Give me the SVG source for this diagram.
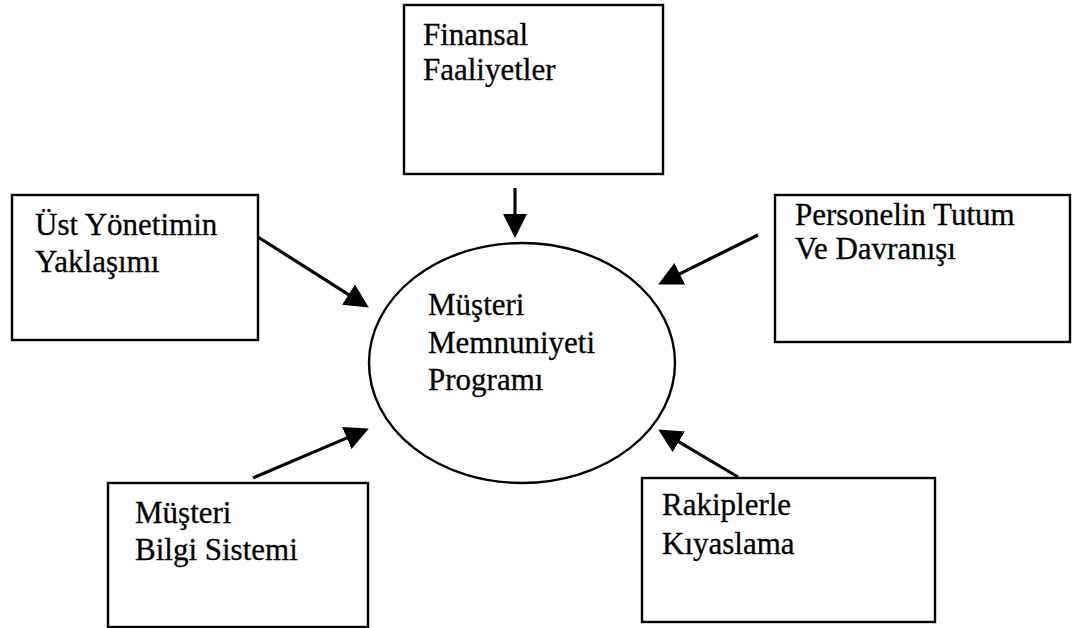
<svg xmlns="http://www.w3.org/2000/svg" width="1078" height="628" viewBox="0 0 1078 628">
  <style>
    .box { fill: #fff; stroke: #000; stroke-width: 2.4; }
    .hub { fill: #fff; stroke: #000; stroke-width: 2.4; }
    .label { font-family: "Liberation Serif", "Times New Roman", "DejaVu Serif", serif; font-size: 31px; fill: #000; stroke: #000; stroke-width: 0.3; }
    .link { stroke: #000; stroke-width: 3.2; fill: none; marker-end: url(#head); }
  </style>
  <defs>
    <marker id="head" markerUnits="userSpaceOnUse" markerWidth="24" markerHeight="24" viewBox="0 0 22 22" refX="12" refY="11" orient="auto">
      <path d="M0,0 L22,11 L0,22 Z" fill="#000"/>
    </marker>
  </defs>
  <rect width="1078" height="628" fill="#fff"/>

  <!-- central programme -->
  <g id="program">
    <ellipse class="hub" cx="522" cy="363" rx="153" ry="120"/>
    <text class="label" x="428" y="315">Müşteri</text>
    <text class="label" x="428" y="353">Memnuniyeti</text>
    <text class="label" x="428" y="390">Programı</text>
  </g>

  <g id="finansal">
    <rect class="box" x="404" y="5" width="259" height="169"/>
    <text class="label" x="423" y="45">Finansal</text>
    <text class="label" x="423" y="80">Faaliyetler</text>
  </g>

  <g id="ust-yonetim">
    <rect class="box" x="12" y="195" width="246" height="145"/>
    <text class="label" x="35" y="235">Üst Yönetimin</text>
    <text class="label" x="35" y="272">Yaklaşımı</text>
  </g>

  <g id="personel">
    <rect class="box" x="775" y="195" width="295" height="147"/>
    <text class="label" x="795" y="225">Personelin Tutum</text>
    <text class="label" x="795" y="259">Ve Davranışı</text>
  </g>

  <g id="bilgi-sistemi">
    <rect class="box" x="108" y="483" width="260" height="144"/>
    <text class="label" x="135" y="523">Müşteri</text>
    <text class="label" x="135" y="560">Bilgi Sistemi</text>
  </g>

  <g id="rakipler">
    <rect class="box" x="642" y="478" width="293" height="144"/>
    <text class="label" x="662" y="515">Rakiplerle</text>
    <text class="label" x="662" y="554">Kıyaslama</text>
  </g>

  <!-- influences pointing at the programme -->
  <g id="connectors">
    <line class="link" x1="515" y1="188" x2="515" y2="227"/>
    <line class="link" x1="258" y1="237" x2="359.6" y2="301.6"/>
    <line class="link" x1="758" y1="235" x2="668" y2="279.6"/>
    <line class="link" x1="253" y1="478" x2="358.8" y2="432.9"/>
    <line class="link" x1="738" y1="477" x2="667.6" y2="435.1"/>
  </g>
</svg>
